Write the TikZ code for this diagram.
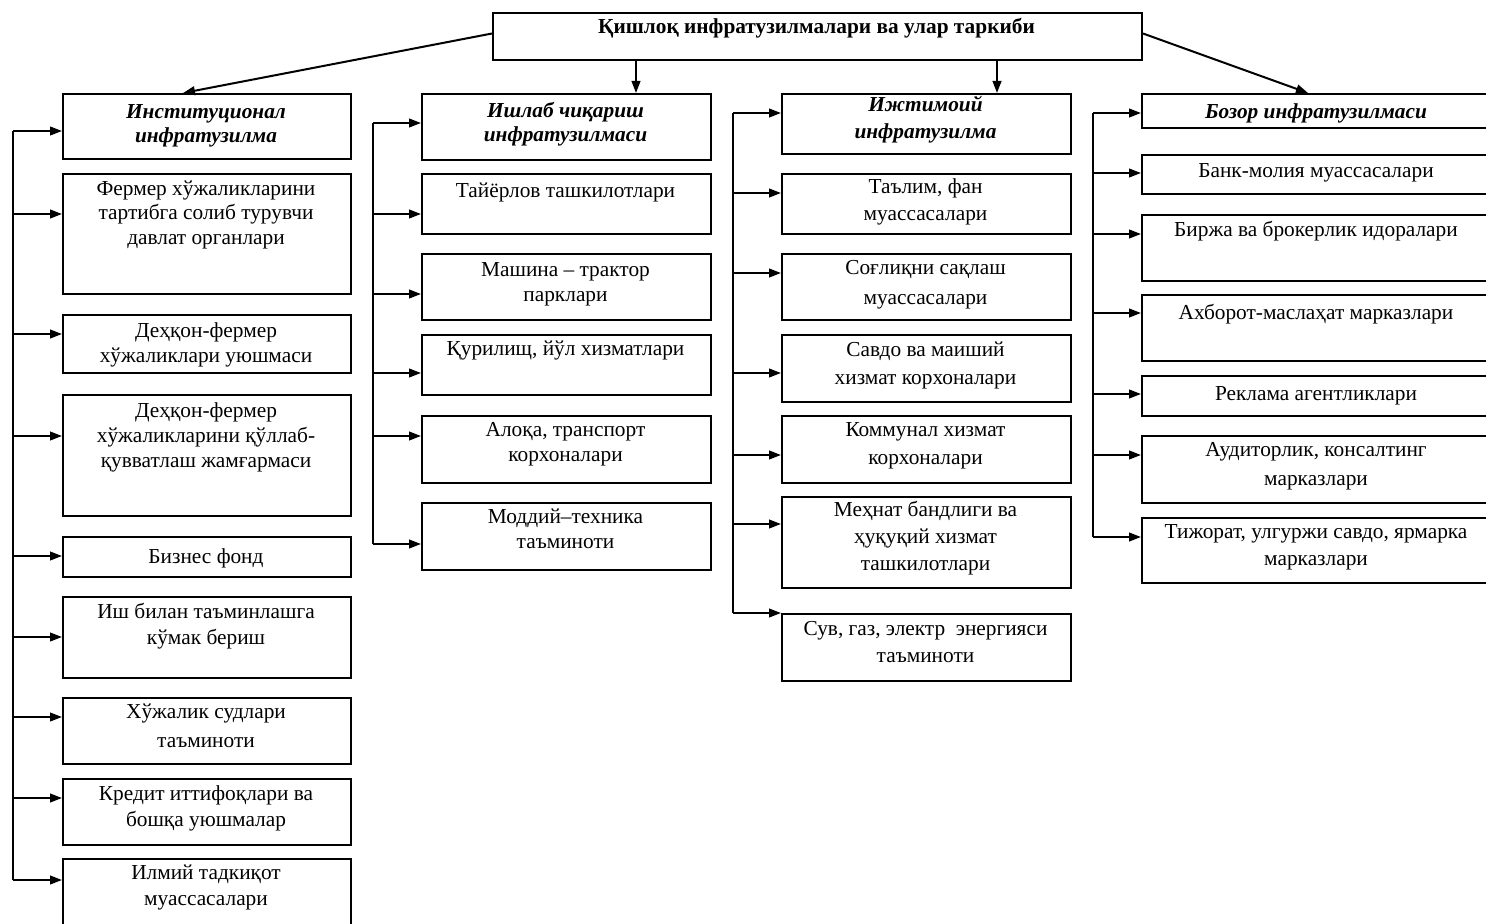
\documentclass[tikz,border=0pt]{standalone}
\usepackage{fontspec}
\setmainfont{Liberation Serif}
\usetikzlibrary{arrows.meta,calc}

\tikzset{
  boxst/.style={draw, line width=1.5pt, rectangle, inner sep=0pt, anchor=north west},
  txt/.style={align=center, inner sep=0pt, anchor=north},
  arr/.style={line width=1.5pt, -{Triangle[length=9pt,width=6.5pt]}},
  bus/.style={line width=1.5pt},
}

% name, x1, y1, x2, y2, first-line centre y, line skip (px), font, text
\newcommand\mybox[9]{%
  \pgfmathsetmacro\bw{(#4-#2)*0.75}%
  \pgfmathsetmacro\bh{(#5-#3)*0.75}%
  \pgfmathsetmacro\bs{#7*0.75}%
  \node[boxst, minimum width=\bw pt, minimum height=\bh pt] (#1) at (#2,#3) {};
  \node[txt, font=\fontsize{16}{\bs pt}\selectfont#8] (#1t) at ({(#2+#4)/2},{#6-11.6}) {\rule{0pt}{14pt}#9};
}

\begin{document}
\begin{tikzpicture}[x=0.75pt,y=-0.75pt]
\useasboundingbox (0,0) rectangle (1486,924);

% top
\mybox{top}{492}{12}{1141}{59}{26}{20}{\bfseries}{Қишлоқ инфратузилмалари ва улар таркиби}

% column 1
\mybox{h1}{62}{93}{350}{158}{111}{24}{\bfseries\itshape}{Институционал\\инфратузилма}
\mybox{b12}{62}{173}{350}{293}{188}{24.5}{}{Фермер хўжаликларини\\тартибга солиб турувчи\\давлат органлари}
\mybox{b13}{62}{314}{350}{372}{330}{25}{}{Деҳқон-фермер\\хўжаликлари уюшмаси}
\mybox{b14}{62}{394}{350}{515}{410}{25}{}{Деҳқон-фермер\\хўжаликларини қўллаб-\\қувватлаш жамғармаси}
\mybox{b15}{62}{536}{350}{576}{556}{24}{}{Бизнес фонд}
\mybox{b16}{62}{596}{350}{677}{611}{26}{}{Иш билан таъминлашга\\кўмак бериш}
\mybox{b17}{62}{697}{350}{763}{711}{29}{}{Хўжалик судлари\\таъминоти}
\mybox{b18}{62}{778}{350}{844}{793}{26}{}{Кредит иттифоқлари ва\\бошқа уюшмалар}
\mybox{b19}{62}{858}{350}{935}{872}{26}{}{Илмий тадкиқот\\муассасалари}

% column 2
\mybox{h2}{421}{93}{710}{159}{110}{24}{\bfseries\itshape}{Ишлаб чиқариш\\инфратузилмаси}
\mybox{b22}{421}{173}{710}{233}{190}{24}{}{Тайёрлов ташкилотлари}
\mybox{b23}{421}{253}{710}{319}{269}{25}{}{Машина – трактор\\парклари}
\mybox{b24}{421}{334}{710}{394}{348}{24}{}{Қурилищ, йўл хизматлари}
\mybox{b25}{421}{415}{710}{482}{429}{25}{}{Алоқа, транспорт\\корхоналари}
\mybox{b26}{421}{502}{710}{569}{516}{25}{}{Моддий–техника\\таъминоти}

% column 3
\mybox{h3}{781}{93}{1070}{153}{104}{27}{\bfseries\itshape}{Ижтимоий\\инфратузилма}
\mybox{b32}{781}{173}{1070}{233}{186}{27}{}{Таълим, фан\\муассасалари}
\mybox{b33}{781}{253}{1070}{319}{267}{30}{}{Соғлиқни сақлаш\\муассасалари}
\mybox{b34}{781}{334}{1070}{401}{349}{28}{}{Савдо ва маиший\\хизмат корхоналари}
\mybox{b35}{781}{415}{1070}{482}{429}{28}{}{Коммунал хизмат\\корхоналари}
\mybox{b36}{781}{496}{1070}{587}{509}{27}{}{Меҳнат бандлиги ва\\ҳуқуқий хизмат\\ташкилотлари}
\mybox{b37}{781}{613}{1070}{680}{628}{27}{}{Сув, газ, электр \ энергияси\\таъминоти}

% column 4
\mybox{h4}{1141}{93}{1491}{127}{111}{24}{\bfseries\itshape}{Бозор инфратузилмаси}
\mybox{b42}{1141}{154}{1491}{193}{170}{24}{}{Банк-молия муассасалари}
\mybox{b43}{1141}{214}{1491}{280}{229}{24}{}{Биржа ва брокерлик идоралари}
\mybox{b44}{1141}{294}{1491}{360}{312}{24}{}{Ахборот-маслаҳат марказлари}
\mybox{b45}{1141}{375}{1491}{415}{393}{24}{}{Реклама агентликлари}
\mybox{b46}{1141}{435}{1491}{502}{449}{29}{}{Аудиторлик, консалтинг\\марказлари}
\mybox{b47}{1141}{517}{1491}{582}{531}{27}{}{Тижорат, улгуржи савдо, ярмарка\\марказлари}

% connectors from the top box
\coordinate (v2) at (636,0);
\coordinate (v3) at (997,0);
\draw[arr] ($(top.west)+(0,-3)$) -- ($(h1.north)+(-24,0)$);
\draw[arr] (top.south -| v2) -- (h2.north -| v2);
\draw[arr] (top.south -| v3) -- (h3.north -| v3);
\draw[arr] ($(top.east)+(0,-3)$) -- ($(h4.north)+(-9,0)$);

% column 1 bus
\foreach \n/\y in {h1/131,b12/214,b13/334,b14/436,b15/556,b16/637,b17/717,b18/798,b19/880}{
  \coordinate (p1\n) at (13,\y);
  \draw[arr] (p1\n) -- (p1\n -| \n.west);
}
\draw[bus] (p1h1) -- (p1b19);

% column 2 bus
\foreach \n/\y in {h2/123,b22/214,b23/294,b24/373,b25/436,b26/544}{
  \coordinate (p2\n) at (373,\y);
  \draw[arr] (p2\n) -- (p2\n -| \n.west);
}
\draw[bus] (p2h2) -- (p2b26);

% column 3 bus
\foreach \n/\y in {h3/113,b32/193,b33/273,b34/373,b35/455,b36/524,b37/613}{
  \coordinate (p3\n) at (733,\y);
  \draw[arr] (p3\n) -- (p3\n -| \n.west);
}
\draw[bus] (p3h3) -- (p3b37);

% column 4 bus
\foreach \n/\y in {h4/113,b42/173,b43/234,b44/313,b45/394,b46/455,b47/537}{
  \coordinate (p4\n) at (1093,\y);
  \draw[arr] (p4\n) -- (p4\n -| \n.west);
}
\draw[bus] (p4h4) -- (p4b47);
\end{tikzpicture}
\end{document}
